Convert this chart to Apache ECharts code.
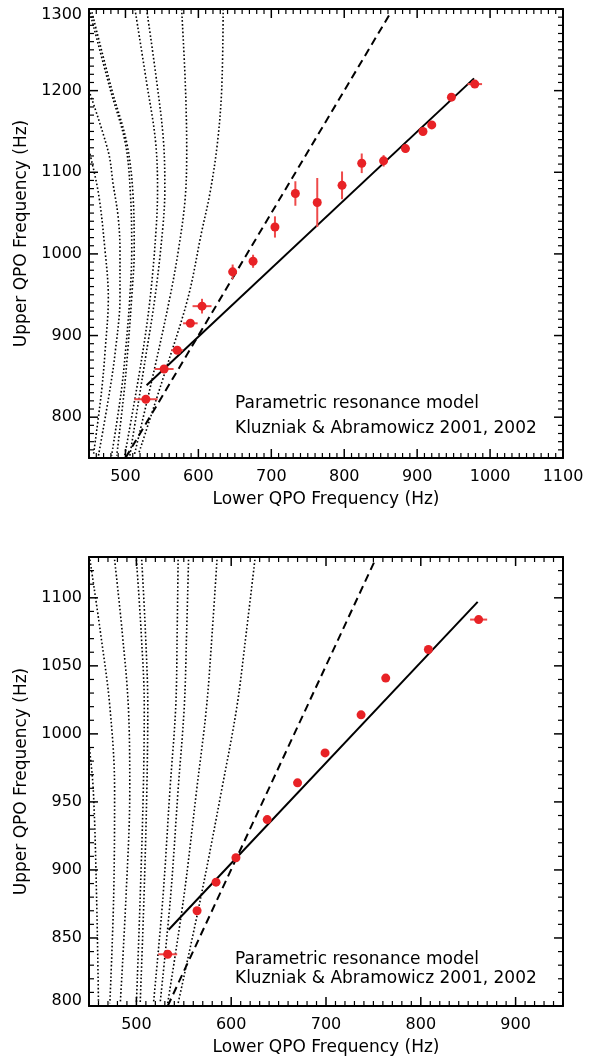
<!DOCTYPE html>
<html>
<head>
<meta charset="utf-8">
<script src="https://cdn.jsdelivr.net/npm/echarts@6/dist/echarts.min.js"></script>
<style>html,body{margin:0;padding:0;background:#fff}#c{width:592px;height:1057px}</style>
</head>
<body>
<div id="c"></div>
<script>
// ---------------- DATA ----------------
// Top panel observed QPO pairs: lower, upper, lower err, upper err (Hz)
const topLower  = [528, 553, 571, 589, 605, 647, 675, 705, 733, 763, 797, 824, 854, 884, 908, 920, 947, 979];
const topUpper  = [822, 859, 882, 915, 936, 978, 991, 1033, 1074, 1063, 1084, 1111, 1114, 1129, 1150, 1158, 1192, 1208];
const topLowErr = [16, 13, 8, 10, 13, 3, 2, 2, 2, 2, 2, 2, 3, 3, 3, 2, 5, 10];
const topUpErr  = [2, 2, 2, 3, 9, 9, 8, 13, 15, 30, 17, 12, 7, 5, 3, 4, 2, 2];

// Bottom panel observed QPO pairs
const botLower  = [533, 564, 584, 605, 638, 670, 699, 737, 763, 808, 861];
const botUpper  = [838, 870, 891, 909, 937, 964, 986, 1014, 1041, 1062, 1084];
const botLowErr = [10, 1, 1, 1, 1, 1, 1, 1, 1, 1, 9];
const botUpErr  = [1, 1, 1, 1, 1, 1, 1, 1, 1, 1, 1];

// Model lines
const topFit    = [[529, 839], [978, 1215]];
const topRatio  = [[500, 750], [862, 1293]];   // 3:2
const botFit    = [[534, 856], [860, 1097]];
const botRatio  = [[533, 800], [752, 1128]];   // 3:2

// Dotted curves, top panel
const topCurveH = [[450, 1127], [463, 1074], [472, 1004], [476.5, 947], [472, 880], [467, 830], [456, 753]];
const topCurveA = [[450, 1200], [476.5, 1125], [483, 1086], [490, 1045], [492.5, 1004], [492.5, 947], [486, 880], [478, 830], [463, 753]];
const topCurveB = [[450, 1300], [479, 1202], [500, 1135], [507, 1070], [508.6, 1004], [506, 947], [500, 880], [494, 830], [481, 753]];
const topCurveC = [[454, 1296], [481, 1202], [502, 1135], [510.5, 1070], [512, 1004], [508.6, 947], [503, 880], [498, 830], [488, 753]];
const topCurveD = [[513, 1300], [529, 1210], [541, 1140], [544, 1080], [542, 1030], [534, 947], [522, 870], [499, 753]];
const topCurveE = [[529, 1300], [543, 1210], [552, 1140], [554, 1080], [551, 1030], [540.5, 947], [527, 870], [506, 753]];
const topCurveF = [[577, 1300], [582, 1210], [584, 1127], [581.7, 1066], [572.5, 1004], [561, 947], [540, 860], [512, 753]];
const topCurveG = [[634, 1300], [632, 1202], [626, 1135], [616, 1075], [604, 1025], [586, 947], [556, 860], [518, 755]];

// Dotted curves, bottom panel
const botCurve0 = [[450, 992], [454.5, 959], [458, 880], [460, 802]];
const botCurve1 = [[451, 1128], [462, 1075], [472, 1020], [477, 959], [476, 880], [472, 802]];
const botCurve2 = [[477, 1128], [485, 1075], [491.5, 1020], [493, 959], [489, 880], [483, 802]];
const botCurve3 = [[500, 1128], [505, 1075], [508.3, 1020], [507.3, 959], [504, 880], [500, 802]];
const botCurve4 = [[505.6, 1128], [509.5, 1075], [512, 1020], [511, 959], [508, 880], [504, 802]];
const botCurve5 = [[544, 1128], [543, 1075], [541.5, 1020], [535.4, 959], [528, 880], [518, 802]];
const botCurve6 = [[555, 1128], [553, 1075], [550.5, 1020], [544, 959], [536, 880], [525, 802]];
const botCurve7 = [[585, 1128], [580, 1075], [574, 1020], [563.6, 959], [550, 880], [533, 802]];
const botCurve8 = [[625, 1128], [616, 1075], [606, 1020], [590, 959], [568, 880], [544, 802]];

// Tick values
const topXTicks = [500, 600, 700, 800, 900, 1000, 1100];
const topYTicks = [800, 900, 1000, 1100, 1200, 1300];
const botXTicks = [500, 600, 700, 800, 900];
const botYTicks = [800, 850, 900, 950, 1000, 1050, 1100];
const minorStep = 10;

const xTitle = 'Lower QPO Frequency (Hz)';
const yTitle = 'Upper QPO Frequency (Hz)';
const note1 = 'Parametric resonance model';
const note2 = 'Kluzniak & Abramowicz 2001, 2002';

// ---------------- STYLE / LAYOUT ----------------
const FONT = 'DejaVu Sans';
const RED = '#e82226';
const RED_BAR = '#ee4a4a';
const panels = [
  { top: 9,   xMin: 450, xMax: 1100, yMin: 750, yMax: 1300, xTicks: topXTicks, yTicks: topYTicks, shiftDown: 1300, shiftUp: null },
  { top: 557, xMin: 450, xMax: 950,  yMin: 800, yMax: 1130, xTicks: botXTicks, yTicks: botYTicks, shiftDown: null, shiftUp: 800 }
];
const GL = 89, GW = 474, GH = 449;
const MAJ = 9, MIN = 5;

const grids = [], xAxes = [], yAxes = [], series = [];
const line = { show: true, onZero: false, lineStyle: { color: '#000', width: 2 } };
const baseText = { color: '#000', fontFamily: FONT, fontSize: 16 };
const lab = (vals, margin, p) => ({ customValues: vals, margin: margin, ...baseText,
  formatter: v => (p && v === p.shiftDown) ? '{dn|' + v + '}' : (p && v === p.shiftUp) ? '{up|' + v + '}' : String(v),
  rich: { dn: { ...baseText, padding: [12, 0, 0, 0] }, up: { ...baseText, padding: [0, 0, 10, 0] } } });

panels.forEach((p, i) => {
  grids.push({ left: GL, top: p.top, width: GW, height: GH, containLabel: false });
  xAxes.push({ type: 'value', gridIndex: i, position: 'bottom', min: p.xMin, max: p.xMax,
    axisLine: line, axisTick: { show: false }, splitLine: { show: false },
    axisLabel: lab(p.xTicks, 11, null),
    name: xTitle, nameLocation: 'middle', nameGap: 33,
    nameTextStyle: { color: '#000', fontFamily: FONT, fontSize: 17 } });
  xAxes.push({ type: 'value', gridIndex: i, position: 'top', min: p.xMin, max: p.xMax,
    axisLine: line, axisTick: { show: false }, axisLabel: { show: false }, splitLine: { show: false } });
  yAxes.push({ type: 'value', gridIndex: i, position: 'left', min: p.yMin, max: p.yMax,
    axisLine: line, axisTick: { show: false }, splitLine: { show: false },
    axisLabel: lab(p.yTicks, 7, p),
    name: yTitle, nameLocation: 'middle', nameGap: 50,
    nameTextStyle: { color: '#000', fontFamily: FONT, fontSize: 17 } });
  yAxes.push({ type: 'value', gridIndex: i, position: 'right', min: p.yMin, max: p.yMax,
    axisLine: line, axisTick: { show: false }, axisLabel: { show: false }, splitLine: { show: false } });

  // inward tick marks on all four sides, placed through the axis scales
  const rows = [];
  for (let v = p.xMin; v <= p.xMax; v += minorStep) rows.push([v, p.yMin, 0, p.xTicks.includes(v) ? MAJ : MIN]);
  for (let v = p.yMin; v <= p.yMax; v += minorStep) rows.push([p.xMin, v, 1, p.yTicks.includes(v) ? MAJ : MIN]);
  series.push({ type: 'custom', xAxisIndex: 2 * i, yAxisIndex: 2 * i, data: rows, silent: true, z: 5, clip: false,
    encode: { x: 0, y: 1 },
    renderItem: (params, api) => {
      const kind = api.value(2), len = api.value(3);
      const w = len === MAJ ? 1.5 : 1.2;
      let a, b, s;
      if (kind === 0) {
        const v = api.value(0);
        a = api.coord([v, p.yMin]); b = api.coord([v, p.yMax]);
        s = [[a[0], a[1], a[0], a[1] - len], [b[0], b[1], b[0], b[1] + len]];
      } else {
        const v = api.value(1);
        a = api.coord([p.xMin, v]); b = api.coord([p.xMax, v]);
        s = [[a[0], a[1], a[0] + len, a[1]], [b[0], b[1], b[0] - len, b[1]]];
      }
      return { type: 'group', children: s.map(q => ({ type: 'line',
        shape: { x1: q[0], y1: q[1], x2: q[2], y2: q[3] }, style: { stroke: '#000', lineWidth: w } })) };
    } });
});

const AX = [{ x: 0, y: 0 }, { x: 2, y: 2 }];

function dotted(curve, pi) {
  series.push({ type: 'line', xAxisIndex: AX[pi].x, yAxisIndex: AX[pi].y, data: curve, smooth: 0.35,
    showSymbol: false, silent: true, z: 1,
    lineStyle: { color: '#000', width: 1.6, type: [1.6, 2.2] } });
}
[topCurveH, topCurveA, topCurveB, topCurveC, topCurveD, topCurveE, topCurveF, topCurveG].forEach(c => dotted(c, 0));
[botCurve0, botCurve1, botCurve2, botCurve3, botCurve4, botCurve5, botCurve6, botCurve7, botCurve8].forEach(c => dotted(c, 1));

function modelLine(d, pi, dashed) {
  series.push({ type: 'line', xAxisIndex: AX[pi].x, yAxisIndex: AX[pi].y, data: d, showSymbol: false, silent: true, z: 2,
    lineStyle: { color: '#000', width: 2, type: dashed ? [8, 5] : 'solid' } });
}
modelLine(topFit, 0, false); modelLine(topRatio, 0, true);
modelLine(botFit, 1, false); modelLine(botRatio, 1, true);

function points(lo, up, le, ue, pi) {
  const rows = lo.map((v, i) => [v, up[i], le[i], ue[i]]);
  series.push({ type: 'custom', xAxisIndex: AX[pi].x, yAxisIndex: AX[pi].y, data: rows, z: 3, silent: true,
    encode: { x: 0, y: 1 },
    renderItem: (params, api) => {
      const x = api.value(0), y = api.value(1), xe = api.value(2), ye = api.value(3);
      const l = api.coord([x - xe, y]), r = api.coord([x + xe, y]);
      const t = api.coord([x, y + ye]), b = api.coord([x, y - ye]);
      return { type: 'group', children: [
        { type: 'line', shape: { x1: l[0], y1: l[1], x2: r[0], y2: r[1] }, style: { stroke: RED_BAR, lineWidth: 2 } },
        { type: 'line', shape: { x1: t[0], y1: t[1], x2: b[0], y2: b[1] }, style: { stroke: RED_BAR, lineWidth: 2 } }
      ] };
    } });
  series.push({ type: 'scatter', xAxisIndex: AX[pi].x, yAxisIndex: AX[pi].y, z: 4, silent: true,
    data: rows.map(r => [r[0], r[1]]), symbol: 'circle', symbolSize: 9,
    itemStyle: { color: RED, opacity: 1 } });
}
points(topLower, topUpper, topLowErr, topUpErr, 0);
points(botLower, botUpper, botLowErr, botUpErr, 1);

const noteStyle = (t) => ({ text: t, fill: '#000', font: '17px "' + FONT + '"' });

const chart = echarts.init(document.getElementById('c'), null, { renderer: 'canvas' });
chart.setOption({
  animation: false,
  backgroundColor: '#fff',
  grid: grids, xAxis: xAxes, yAxis: yAxes, series: series,
  graphic: [
    { type: 'text', left: 235, top: 395, style: noteStyle(note1) },
    { type: 'text', left: 235, top: 420, style: noteStyle(note2) },
    { type: 'text', left: 235, top: 951, style: noteStyle(note1) },
    { type: 'text', left: 235, top: 970, style: noteStyle(note2) }
  ]
});
</script>
</body>
</html>
